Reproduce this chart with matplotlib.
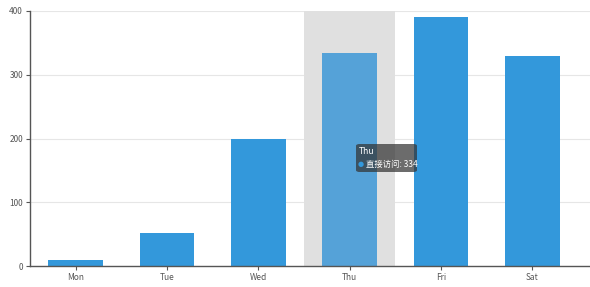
import matplotlib
matplotlib.use("Agg")
import matplotlib.pyplot as plt
from matplotlib.patches import FancyBboxPatch

plt.rcParams['font.family'] = ['Noto Sans CJK SC', 'DejaVu Sans']

days = ["Mon", "Tue", "Wed", "Thu", "Fri", "Sat"]
values = [10, 52, 200, 334, 390, 330]
hover = 3  # Thu
series_name = "直接访问"

fig = plt.figure(figsize=(5.9, 2.87), dpi=100)
ax = fig.add_axes([30 / 590, 21 / 287, 1 - 30 / 590, 255 / 287])

x = list(range(len(days)))
colors = ["#3398db"] * len(days)
colors[hover] = "#55a2d8"

ax.bar(hover, 400, width=1.0, color="#e0e0e0", zorder=1)
ax.bar(x, values, width=0.6, color=colors, zorder=2)

ax.set_xlim(-0.5, 5.63)
ax.set_ylim(0, 400)
ax.set_yticks([0, 100, 200, 300, 400])
ax.set_xticks(x)
ax.set_xticklabels(days)
ax.yaxis.grid(True, color="#e6e6e6", linewidth=0.8, zorder=0)
ax.set_axisbelow(True)

for s in ["top", "right"]:
    ax.spines[s].set_visible(False)
for s in ["left", "bottom"]:
    ax.spines[s].set_color("#555555")
    ax.spines[s].set_linewidth(1)
    ax.spines[s].set_zorder(5)
ax.tick_params(axis="both", colors="#555555", labelsize=6, length=3, width=0.8, pad=2)

# tooltip
tx, ty = 356 / 590, 1 - 172 / 287
box = FancyBboxPatch((tx, ty), 61 / 590, 28 / 287, boxstyle="round,pad=0,rounding_size=0.006",
                     transform=fig.transFigure, facecolor="#333333", alpha=0.72,
                     edgecolor="none", zorder=10)
fig.patches.append(box)
fig.text(359 / 590, 1 - 152 / 287, days[hover], color="white", fontsize=6.2, va="center", zorder=11)
fig.text(358 / 590, 1 - 164 / 287, "●", color="#3398db", fontsize=5, va="center", zorder=11,
         family=["DejaVu Sans"])
fig.text(366 / 590, 1 - 164 / 287, f"{series_name}: {values[hover]}", color="white",
         fontsize=6, va="center", zorder=11)

fig.savefig("out.png", dpi=100)
